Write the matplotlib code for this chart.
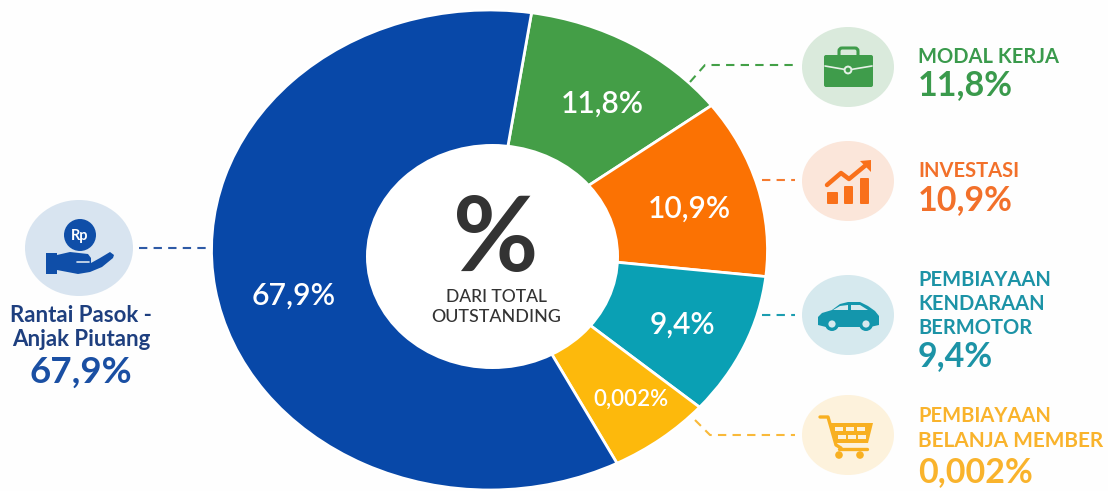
import matplotlib
matplotlib.use("Agg")
import matplotlib.pyplot as plt
from matplotlib.patches import Ellipse, Circle, Polygon, FancyBboxPatch, Rectangle

W, H = 1108, 491
plt.rcParams['font.family'] = ['Lato', 'DejaVu Sans']

# Printed values, clockwise from the top
categories = ["Modal Kerja", "Investasi", "Pembiayaan Kendaraan Bermotor",
              "Pembiayaan Belanja Member", "Rantai Pasok - Anjak Piutang"]
value_labels = ["11,8%", "10,9%", "9,4%", "0,002%", "67,9%"]
# Slice sizes as drawn in the picture (the drawn slices do not follow the printed values)
drawn_shares = [12.3, 12.05, 9.6, 6.05, 60.0]
slice_colors = ["#449E47", "#FB7203", "#0AA0B4", "#FDB90C", "#0848A8"]
start_angle = 81.3

BG = "#FEFEFE"
fig = plt.figure(figsize=(W / 100, H / 100), dpi=100, facecolor=BG)

# Pie stretched into the ellipse of the picture
cx, cy, rx, ry = 489.5, 250, 278, 240
pie_ax = fig.add_axes([(cx - rx) / W, 1 - (cy + ry) / H, 2 * rx / W, 2 * ry / H])
pie_ax.pie(drawn_shares, colors=slice_colors, startangle=start_angle, counterclock=False,
           wedgeprops=dict(edgecolor="white", linewidth=2))
pie_ax.set_aspect("auto")
pie_ax.set_xlim(-1, 1)
pie_ax.set_ylim(-1, 1)
pie_ax.patch.set_alpha(0)

# Pixel overlay for hole, connectors, icons, text
ov = fig.add_axes([0, 0, 1, 1])
ov.set_xlim(0, W)
ov.set_ylim(H, 0)
ov.axis("off")
ov.patch.set_alpha(0)
ov.add_patch(Ellipse((492.5, 256.5), 253, 225, fc="white", ec="none", zorder=2))

def txt(x, y, s, color, size, weight="bold", ha="left"):
    ov.text(x, y, s, color=color, fontsize=size, fontweight=weight, ha=ha, va="baseline", zorder=5)

# Centre text
txt(495.5, 271, "%", "#333333", 75, "bold", "center")
txt(496, 301.5, "DARI TOTAL", "#333333", 12.6, "medium", "center")
txt(496, 322.5, "OUTSTANDING", "#333333", 12.9, "medium", "center")

# Slice labels
label_pos = [(602, 113), (689, 218), (682, 334), (631, 406), (294, 305)]
label_size = [21.5, 21.5, 21.5, 16, 21.8]
for (x, y), s, fs in zip(label_pos, value_labels, label_size):
    txt(x, y, s, "white", fs, "semibold", "center")

# Connectors
def dash(xs, ys, c):
    ov.plot(xs, ys, color=c, lw=1.5, ls=(0, (4, 3)), zorder=3, solid_capstyle="butt")

dash([139, 208], [248, 248], "#2E5AA6")
dash([690, 705, 795], [82, 65, 65], "#43A047")
dash([762, 795], [180, 180], "#F57B30")
dash([762, 795], [315, 315], "#1C9DB0")
dash([695, 710, 795], [420, 435, 435], "#F9B93A")

# Icon discs
discs = [(79, 248, 54, 48, "#D8E4F0"), (848, 67, 46, 40, "#DAEADC"),
         (848, 181, 46, 40, "#FBE6DA"), (848, 315, 46, 40, "#D6E9EE"),
         (848, 435, 46, 40, "#FDF2DC")]
for x, y, a, b, c in discs:
    ov.add_patch(Ellipse((x, y), 2 * a, 2 * b, fc=c, ec="none", zorder=3))

Z = 4
def rrect(x0, y0, x1, y1, c, r=2, fill=True, lw=0):
    ov.add_patch(FancyBboxPatch((x0 + r, y0 + r), x1 - x0 - 2 * r, y1 - y0 - 2 * r,
                                boxstyle=f"round,pad={r}", fc=c if fill else "none",
                                ec=c if not fill else "none", lw=lw, zorder=Z))
def poly(pts, c, z=Z):
    ov.add_patch(Polygon(pts, closed=True, fc=c, ec="none", zorder=z))
def line(xs, ys, c, lw, z=Z + 0.5, cap="round"):
    ov.plot(xs, ys, color=c, lw=lw, zorder=z, solid_capstyle=cap, solid_joinstyle="round")
def ring(x, y, r, c, z=Z + 0.5):
    ov.add_patch(Circle((x, y), r, fc=c, ec="none", zorder=z))

# Briefcase
g = "#3F9C4B"
rrect(839, 48, 858, 58, g, r=3, fill=False, lw=2.2)
rrect(824, 55, 873, 87, g, r=2)
line([825, 848, 872], [66, 70, 66], "#E6F1E7", 1.2)
ring(848, 70, 4.4, "#E6F1E7")
ring(848, 70, 2.4, g, Z + 0.6)

# Growth chart
o = "#F9701A"
rrect(827, 192, 838, 204, o, r=1)
rrect(844, 186, 853, 204, o, r=1)
rrect(860, 178, 869, 204, o, r=1)
line([827, 841, 849, 866], [185, 173, 179, 165], o, 3.2)
poly([(860, 161), (871, 160), (871, 172)], o)

# Car
t = "#1496AC"
poly([(818, 317), (822, 313), (832, 310), (840, 304), (848, 302), (860, 302), (868, 306), (875, 311),
      (879, 316), (879, 325), (870, 327), (826, 327), (818, 325)], t)
poly([(833, 310), (840, 306), (848, 305), (848, 310)], "#D6E9EE", Z + 0.5)
poly([(851, 305), (860, 305), (868, 310), (851, 310)], "#D6E9EE", Z + 0.5)
for wx in (832, 866):
    ring(wx, 324, 7, t, Z + 0.6)
    ring(wx, 324, 3.6, "#D6E9EE", Z + 0.7)

# Cart
y_ = "#F8B021"
line([820, 828, 836, 841], [417, 417, 445, 448], y_, 2.4)
poly([(829, 423), (873, 423), (868, 443), (835, 443)], y_)
line([839, 867], [449, 449], y_, 2.4)
ring(839, 455, 3.8, y_)
ring(860, 455, 3.8, y_)
for cell_y, xs_ in ((427, (835, 846, 857)), (435, (838, 848, 858))):
    for cell_x in xs_:
        ov.add_patch(Rectangle((cell_x, cell_y), 7.5, 3.6, fc="#FDF2DC", ec="none", zorder=Z + 0.5))

# Hand and coin
b = "#0F4EA8"
ring(80, 235, 16, b)
txt(80, 239.5, "Rp", "white", 10.5, "bold", "center")
poly([(46, 253), (57, 253), (57, 255), (70, 252), (88, 254), (91, 258), (91, 263), (100, 258), (110, 252),
      (114, 255), (113, 258), (102, 267), (90, 272), (78, 274), (57, 270), (57, 274), (46, 274)], b)
line([77, 89], [262, 262], "#D8E4F0", 1.2)

# Side labels
green, orange, teal, amber = "#3A9A4C", "#F2702A", "#1C93A6", "#F9B32C"
txt(918, 63, "MODAL KERJA", green, 14.5)
txt(918, 95.5, value_labels[0], green, 24.5)
txt(918, 177, "INVESTASI", orange, 14.5)
txt(918, 210, value_labels[1], orange, 24.5)
txt(918, 286, "PEMBIAYAAN", teal, 14.5)
txt(918, 310, "KENDARAAN", teal, 14.5)
txt(918, 334.5, "BERMOTOR", teal, 14.5)
txt(918, 366, value_labels[2], teal, 24.5)
txt(918, 422, "PEMBIAYAAN", amber, 14.5)
txt(918, 447, "BELANJA MEMBER", amber, 15)
txt(918, 482.5, value_labels[3], amber, 24.5)
txt(81, 322, "Rantai Pasok -", "#1E3F7F", 16, "bold", "center")
txt(81, 346.5, "Anjak Piutang", "#1E3F7F", 16, "bold", "center")
txt(81, 383, value_labels[4], "#1A4FA3", 26.5, "bold", "center")

fig.savefig("out.png", dpi=100, facecolor=BG)
